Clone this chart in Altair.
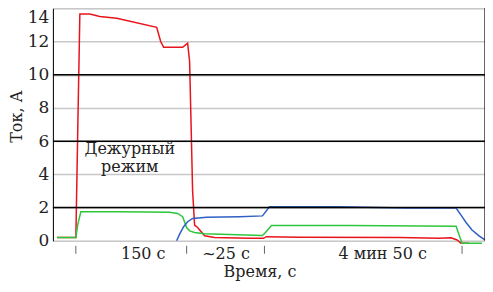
import altair as alt
import pandas as pd

# x in arbitrary position units (segmented, non-linear time axis), y in amperes
red_x = [4, 23, 25, 27, 37, 47, 64, 104, 108, 111, 130, 135, 137, 140, 142, 145, 152, 162, 197, 211, 214, 247, 347, 387, 399, 405, 409, 417]
red_y = [0.2, 0.2, 7.0, 13.65, 13.65, 13.5, 13.4, 12.85, 12.0, 11.65, 11.65, 11.9, 10.8, 3.0, 0.95, 0.8, 0.3, 0.2, 0.15, 0.15, 0.25, 0.22, 0.2, 0.15, 0.18, 0.05, -0.15, -0.15]

green_x = [4, 23, 25, 28, 67, 117, 125, 130, 134, 137, 142, 152, 177, 210, 213, 219, 297, 404, 410, 430]
green_y = [0.2, 0.2, 1.0, 1.75, 1.75, 1.72, 1.65, 1.45, 0.8, 0.6, 0.5, 0.42, 0.38, 0.32, 0.5, 0.92, 0.92, 0.88, -0.15, -0.15]

blue_x = [124, 127, 131, 135, 140, 154, 187, 210, 217, 287, 354, 404, 409, 414, 420, 427, 433]
blue_y = [0.0, 0.4, 0.85, 1.15, 1.35, 1.42, 1.45, 1.5, 2.05, 2.05, 1.97, 1.97, 1.55, 1.1, 0.65, 0.3, 0.05]

tick_pos = [23, 134, 212, 410]
seg_label_pos = [90, 173, 330]
seg_labels = ["150 с", "~25 с", "4 мин 50 с"]
y_ticks = [0, 2, 4, 6, 8, 10, 12, 14]
black_grid = [2, 6, 10]
note_lines = ["Дежурный", "режим"]
note_y = [5.55, 4.45]

FONT = "DejaVu Serif"

df = pd.concat([
    pd.DataFrame({"x": red_x, "y": red_y, "s": "red", "o": range(len(red_x))}),
    pd.DataFrame({"x": green_x, "y": green_y, "s": "green", "o": range(len(green_x))}),
    pd.DataFrame({"x": blue_x, "y": blue_y, "s": "blue", "o": range(len(blue_x))}),
])

label_map = "{" + ", ".join(f"'{p}': '{t}'" for p, t in zip(seg_label_pos, seg_labels)) + "}"

xscale = alt.Scale(domain=[0, 433], nice=False, zero=False)
yscale = alt.Scale(domain=[0, 14], nice=False)

x_axis = alt.Axis(
    values=seg_label_pos, labelExpr=f"{label_map}[datum.value]", ticks=False,
    domain=False, grid=False, labelFont=FONT, labelFontSize=16, labelColor="#222",
    labelPadding=5, labelOverlap=False, title="Время, с", titleFont=FONT, titleFontSize=16,
    titleFontWeight="normal", titleColor="#222", titlePadding=2, titleX=207)

y_axis = alt.Axis(
    values=y_ticks, ticks=False, domainColor="black", labelOverlap=False,
    labelFlush=False, gridColor="#c8c8c8", gridWidth=1.5, labelFont=FONT,
    labelFontSize=17, labelColor="#222", labelPadding=4,
    labelBaseline={"condition": {"test": "datum.value == 14", "value": "top"}, "value": "middle"},
    labelOffset={"condition": {"test": "datum.value == 14", "value": 1}, "value": 0},
    title="Ток, А",
    titleFont=FONT, titleFontSize=16, titleFontWeight="normal", titleColor="#222",
    titleY=108, titleX=-36, titleBaseline="middle", titleAngle=270)

X = lambda: alt.X("x:Q", scale=xscale, axis=x_axis)
Y = lambda: alt.Y("y:Q", scale=yscale, axis=y_axis)

lines = alt.Chart(df).mark_line(strokeWidth=1.5).encode(
    x=X(),
    y=Y(),
    color=alt.Color("s:N", scale=alt.Scale(domain=["red", "green", "blue"],
                                           range=["#e8141c", "#2ec63c", "#2f5fc4"]), legend=None),
    order="o:Q",
    detail="s:N",
)

grid_black = alt.Chart(pd.DataFrame({"y": black_grid})).mark_rule(color="black", strokeWidth=1.5).encode(
    y=Y())

right_border = alt.Chart(pd.DataFrame({"x": [433]})).mark_rule(color="black", strokeWidth=1.2).encode(
    x=X())

ticks = alt.Chart(pd.DataFrame({"x": tick_pos})).mark_rule(color="#666", strokeWidth=1).encode(
    x=X(), y=alt.value(238), y2=alt.value(246))

note = alt.Chart(pd.DataFrame({"x": [77, 77], "y": note_y, "t": note_lines})).mark_text(
    font=FONT, fontSize=16, color="#222", baseline="middle").encode(
    x=X(), y=Y(), text="t:N")

chart = alt.layer(lines, grid_black, right_border, ticks, note).properties(
    width=433, height=233,
    autosize=alt.AutoSizeParams(type="none"),
    padding={"left": 45, "top": 0, "right": 0, "bottom": 43},
).configure_view(stroke=None).configure(background="white")

chart.save("out.html", embed_options={"renderer": "svg", "actions": False})
